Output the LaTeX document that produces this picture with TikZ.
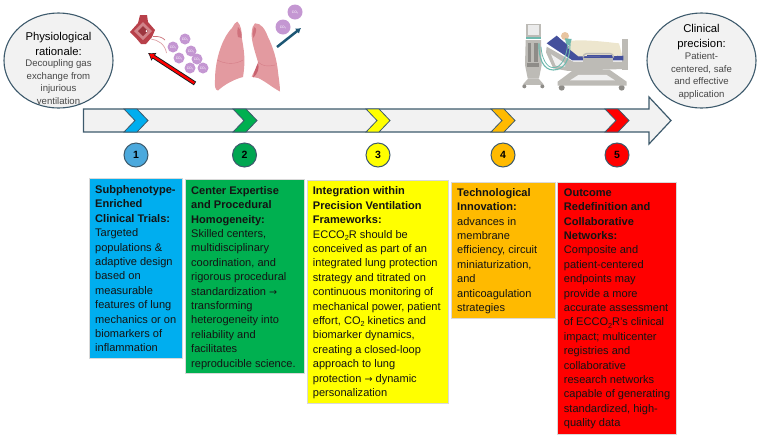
\documentclass[tikz,border=0pt]{standalone}
\usepackage{fontspec}
\setmainfont{Liberation Sans}
\newfontfamily\arrowfont{DejaVu Sans}
\usetikzlibrary{arrows.meta,calc}
\definecolor{slateline}{HTML}{3D5A6C}
\definecolor{panelgrey}{HTML}{F2F2F2}
\definecolor{cBlue}{HTML}{00AEEF}
\definecolor{cBlueDot}{HTML}{4BA9DD}
\definecolor{cGreen}{HTML}{00B050}
\definecolor{cGreenDot}{HTML}{00A651}
\definecolor{cYellow}{HTML}{FFFF00}
\definecolor{cAmber}{HTML}{FFBA00}
\definecolor{cRed}{HTML}{FF0000}
\definecolor{lungPink}{HTML}{E39AA0}
\definecolor{lungDark}{HTML}{C8616E}
\definecolor{bubble}{HTML}{C497D2}
\definecolor{heartRed}{HTML}{B8404A}
\definecolor{navyArrow}{HTML}{1C5674}
\definecolor{bedGrey}{HTML}{BDBBB6}
\definecolor{bedDark}{HTML}{8E8C88}
\definecolor{bedBlue}{HTML}{44509C}
\definecolor{blanket}{HTML}{EDE6CE}
\definecolor{skin}{HTML}{E8C4A0}
\definecolor{tubeTeal}{HTML}{6FB9AE}
\newcommand{\cotwo}{CO\raisebox{-0.2em}{\scalebox{0.66}{2}}}
\newcommand{\firstline}{\rule{0pt}{11pt}}
\newcommand{\toarrow}{{\arrowfont\fontsize{9.6}{14.4}\selectfont →}}
\tikzset{
  x=1pt,y=-1pt,
  cardbox/.style={draw=white!85!black,line width=0.4pt,anchor=north west,inner sep=0pt},
  cardtext/.style={anchor=north west,inner sep=0pt,align=left,text=black!92,
    font=\fontsize{11.05}{14.4}\selectfont},
  bubbleDot/.style={circle,fill=bubble,inner sep=0pt,minimum size=11pt,text=white,
    font=\fontsize{3.4}{3.4}\selectfont},
  numDot/.style={circle,draw=slateline,line width=1pt,minimum size=24pt,inner sep=0pt,
    font=\fontsize{10.5}{12}\selectfont\bfseries},
  chevronMark/.style={draw=slateline,line width=0.8pt},
  rationale/.style={draw=slateline,line width=1.1pt,fill=panelgrey},
  ellText/.style={inner sep=0pt,align=center},
  bigLine/.style={font=\fontsize{11.3}{15}\selectfont},
  smallLine/.style={font=\fontsize{9.6}{12.4}\selectfont,text=black!72},
}
\newcommand{\chev}[2]{\fill[#2,chevronMark] (#1,109) -- ++(13,0) -- ++(11,11.5) -- ++(-11,11.5) -- ++(-13,0) -- ++(11,-11.5) -- cycle;}
\begin{document}
\begin{tikzpicture}
\useasboundingbox (0,0) rectangle (759,440);

% Timeline arrow
\draw[slateline,line width=1.2pt,fill=panelgrey,line join=miter]
  (83.5,109) -- (649,109) -- (649,97) -- (671,120.5) -- (649,144) -- (649,132) -- (83.5,132) -- cycle;
\chev{124}{cBlue}
\chev{233}{cGreen}
\chev{366}{cYellow}
\chev{491}{cAmber}
\chev{605}{cRed}

% Numbered markers
\node[numDot,fill=cBlueDot] (n1) at (136,155) {1};
\node[numDot,fill=cGreenDot] (n2) at (244.5,155) {2};
\node[numDot,fill=cYellow] (n3) at (378,155) {3};
\node[numDot,fill=cAmber] (n4) at (503,155) {4};
\node[numDot,fill=cRed] (n5) at (617,155) {5};

% End caps of the timeline
\draw[rationale] (58.5,60.5) ellipse [x radius=54.5,y radius=47.5];
\node[ellText,bigLine] (startTitle) at (58.5,43.5) {Physiological\\rationale:};
\node[ellText,smallLine] (startBody) at (58.5,82) {Decoupling gas\\exchange from\\injurious\\ventilation};
\draw[rationale] (701.5,60.5) ellipse [x radius=54.5,y radius=47.5];
\node[ellText,bigLine] (endTitle) at (701.5,37) {Clinical\\precision:};
\node[ellText,smallLine] (endBody) at (701.5,76) {Patient-\\centered, safe\\and effective\\application};

% Cards
\node[cardbox,fill=cBlue,minimum width=93pt,minimum height=180pt] (box1) at (89,178) {};
\node[cardbox,fill=cGreen,minimum width=119pt,minimum height=194pt] (box2) at (185,179) {};
\node[cardbox,fill=cYellow,minimum width=141pt,minimum height=223pt] (box3) at (307,180) {};
\node[cardbox,fill=cAmber,minimum width=104pt,minimum height=136pt] (box4) at (451,182) {};
\node[cardbox,fill=cRed,minimum width=119pt,minimum height=252pt] (box5) at (557,182) {};

\node[cardtext] (text1) at (95,182.3) {\firstline\textbf{Subphenotype-}\\\textbf{Enriched}\\\textbf{Clinical Trials:}\\Targeted\\populations \&\\adaptive design\\based on\\measurable\\features of lung\\mechanics or on\\biomarkers of\\inflammation};
\node[cardtext] (text2) at (191,183) {\firstline\textbf{Center Expertise}\\\textbf{and Procedural}\\\textbf{Homogeneity:}\\Skilled centers,\\multidisciplinary\\coordination, and\\rigorous procedural\\standardization \toarrow\\transforming\\heterogeneity into\\reliability and\\facilitates\\reproducible science.};
\node[cardtext] (text3) at (312.7,183.6) {\firstline\textbf{Integration within}\\\textbf{Precision Ventilation}\\\textbf{Frameworks:}\\ECCO\raisebox{-0.2em}{\scalebox{0.66}{2}}R should be\\conceived as part of an\\integrated lung protection\\strategy and titrated on\\continuous monitoring of\\mechanical power, patient\\effort, \cotwo{} kinetics and\\biomarker dynamics,\\creating a closed-loop\\approach to lung\\protection \toarrow{} dynamic\\personalization};
\node[cardtext] (text4) at (457,185) {\firstline\textbf{Technological}\\\textbf{Innovation:}\\advances in\\membrane\\efficiency, circuit\\miniaturization,\\and\\anticoagulation\\strategies};
\node[cardtext] (text5) at (563.7,185) {\firstline\textbf{Outcome}\\\textbf{Redefinition and}\\\textbf{Collaborative}\\\textbf{Networks:}\\Composite and\\patient-centered\\endpoints may\\provide a more\\accurate assessment\\of ECCO\raisebox{-0.2em}{\scalebox{0.66}{2}}R’s clinical\\impact; multicenter\\registries and\\collaborative\\research networks\\capable of generating\\standardized, high-\\quality data};

% Gas-exchange cartridge
\fill[heartRed] (130,32) -- (138,23) -- (140,15) -- (147,15) -- (148,22) -- (155,30) -- (152,37) -- (146,44) -- (141,44) -- (136,38) -- cycle;
\fill[heartRed!65!white] (143,22) -- (152,31) -- (143,40) -- (134,31) -- cycle;
\fill[heartRed!85!black] (143,26) -- (148,31) -- (143,36) -- (138,31) -- cycle;
\fill[white] (146.5,31) circle (1pt);
\draw[heartRed!75!white,line width=0.7pt] (153,36.5) .. controls (158,36) and (162,37) .. (165,40);
\draw[heartRed!50!white,line width=0.7pt] (151,39) .. controls (158,40) and (165,44) .. (166.5,53);

% Carbon dioxide cloud
\node[bubbleDot] (co1) at (185,39) {CO₂};
\node[bubbleDot] (co2) at (173,47) {CO₂};
\node[bubbleDot] (co3) at (179,58) {CO₂};
\node[bubbleDot] (co4) at (191,51) {CO₂};
\node[bubbleDot] (co5) at (197,59) {CO₂};
\node[bubbleDot] (co6) at (190,68) {CO₂};
\node[bubbleDot] (co7) at (203,68) {CO₂};
\node[bubbleDot,minimum size=15pt] (co8) at (295,12) {CO₂};
\node[bubbleDot,minimum size=15pt] (co9) at (283,27) {CO₂};

% Flow arrows
\coordinate (inTail) at (195,83.5);
\coordinate (inHead) at (148,53);
\coordinate (outTail) at (277,47);
\coordinate (outHead) at (301,28);
\draw[black!70!slateline,line width=4.2pt,-{Latex[length=7pt,width=10pt]}] (inTail) -- (inHead);
\draw[cRed,line width=2.4pt,-{Latex[length=5pt,width=7pt]},shorten >=1.2pt,shorten <=0.8pt] (inTail) -- (inHead);
\draw[navyArrow,line width=2.5pt,-{Latex[length=5pt,width=6.5pt]}] (outTail) -- (outHead);

% Lungs
\fill[lungPink] (237.3,21.5) .. controls (241,25) and (242,32) .. (241.7,37)
  .. controls (243,45) and (245,55) .. (244.3,65) .. controls (244,70) and (243.5,74) .. (243,77)
  .. controls (235,79) and (225,84) .. (218,90.5) .. controls (215,90) and (214.5,86) .. (215,80)
  .. controls (215,60) and (222,38) .. (232,28) .. controls (234,25) and (235,22) .. (237.3,21.5) -- cycle;
\fill[lungPink] (255,23.3) .. controls (261,23) and (265,29) .. (268,37)
  .. controls (273,47) and (277,60) .. (278,72) .. controls (279,80) and (280,86) .. (280,91.5)
  .. controls (273,88) and (265,81) .. (258,78)
  .. controls (255,77.5) and (253,77) .. (251.7,76.7) .. controls (254,70) and (258,68) .. (258,62)
  .. controls (255,52) and (251,40) .. (251.7,33) .. controls (252,28) and (253,25) .. (255,23.3) -- cycle;
\fill[lungDark!70!lungPink] (238,27) .. controls (241,30) and (242,34) .. (241.7,38) -- (238,37) .. controls (237,33) and (237,30) .. (238,27) -- cycle;
\fill[lungDark!70!lungPink] (254,27) .. controls (257,28) and (257,31) .. (253.5,38) -- (252.5,34) -- cycle;
\fill[lungDark] (258,63) .. controls (259.5,68) and (258,74) .. (253,77.5) .. controls (254,72) and (256,67) .. (258,63) -- cycle;
\draw[lungDark!50!lungPink,line width=0.4pt] (217,60) .. controls (225,64) and (235,65) .. (243,60);
\draw[lungDark!50!lungPink,line width=0.4pt] (258,62) .. controls (262,66) and (268,67) .. (275,65);

% Ventilator and hospital bed, in a local frame
\begin{scope}[shift={(515,15)},x=0.3333pt,y=-0.3333pt]
  % ventilator
  \fill[bedGrey] (34,26) rectangle (77,66);
  \fill[white!92!black] (39,31) rectangle (72,60);
  \fill[tubeTeal] (34,67) rectangle (78,73);
  \fill[bedGrey] (32,75) -- (78,75) -- (80,150) -- (72,190) -- (38,190) -- (30,150) -- cycle;
  \fill[bedDark] (38,85) rectangle (48,140);
  \fill[bedDark] (56,85) rectangle (68,140);
  \fill[bedDark] (36,145) rectangle (72,155);
  \fill[bedGrey] (24,208) -- (40,190) -- (70,190) -- (86,208) -- (78,210) -- (32,210) -- cycle;
  \fill[bedDark] (28,214) circle (6);
  \fill[bedDark] (82,214) circle (6);

  % bed frame
  \fill[bedDark] (140,218) circle (9);
  \fill[bedDark] (320,218) circle (9);
  \fill[bedGrey] (128,200) -- (175,165) -- (285,165) -- (335,200) -- (335,212) -- (128,212) -- cycle;
  \fill[white!94!black] (165,196) -- (190,180) -- (275,180) -- (300,196) -- cycle;
  \fill[bedGrey] (95,95) -- (175,140) -- (325,140) -- (325,162) -- (160,168) -- (115,160) -- (93,112) -- cycle;
  \fill[white!94!black] (108,118) -- (150,145) -- (150,155) -- (122,152) -- cycle;
  \fill[bedGrey] (320,72) rectangle (338,165);

  % mattress, patient and blanket
  \fill[bedBlue] (95,85) -- (125,62) -- (190,118) -- (325,122) -- (325,136) -- (172,136) -- cycle;
  \fill[blanket] (162,78) .. controls (210,72) and (280,82) .. (312,85) -- (322,122) -- (190,124) -- (160,100) -- cycle;
  \fill[skin] (150,63) circle (12);
  \fill[tubeTeal] (150,70) -- (170,72) -- (165,92) -- (153,86) -- cycle;

  % side rail
  \draw[bedGrey,line width=1.4pt,rounded corners=3pt] (205,128) -- (205,116) -- (295,116) -- (295,128);
  \fill[bedGrey] (205,128) rectangle (295,152);
  \fill[bedBlue] (215,120) rectangle (290,124);

  % breathing circuit
  \draw[tubeTeal,line width=1.1pt] (72,85) .. controls (70,130) and (85,165) .. (115,165) .. controls (150,165) and (165,130) .. (165,88);
  \draw[tubeTeal,line width=0.8pt] (78,95) .. controls (80,130) and (95,158) .. (115,158) .. controls (140,158) and (155,125) .. (158,88);
\end{scope}
\end{tikzpicture}
\end{document}
